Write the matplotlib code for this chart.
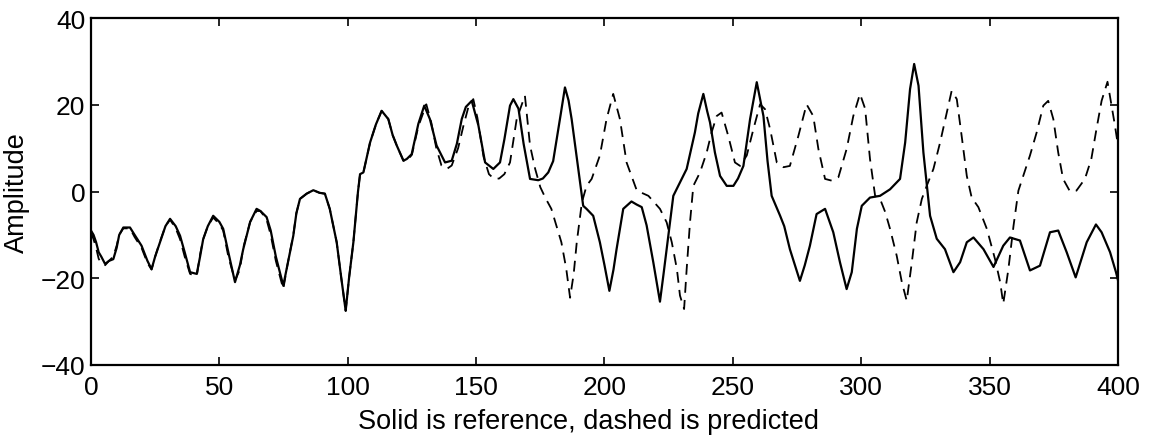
import numpy as np
import matplotlib
matplotlib.use('Agg')
import matplotlib.pyplot as plt

# reference signal (solid)
ref_x = [0, 1, 2, 3, 4, 5.5, 7, 8.7, 10, 11, 12.6, 15.2, 17, 19.7, 22, 23.6, 25, 26.9,
         29, 30.8, 33, 34.7, 36.5, 38.6, 41.2, 42.5, 43.7, 45.5, 47.6, 50, 51.5, 53.5,
         56.1, 58, 59.3, 62, 64.5, 66, 68.4, 70, 72, 74.9, 76.5, 78.8, 80, 81.4, 84,
         86.6, 89, 91.1, 93, 95.7, 97.5, 99.2, 100.5, 102.2, 104, 104.8, 106.1, 108.7,
         111, 113.2, 115.8, 117.5, 119.1, 121.7, 123, 124.9, 127.5, 129.8, 132, 134.6,
         137.9, 140.5, 142.5, 144.4, 146, 148.3, 150.9, 153.5, 156.7, 159.3, 161, 163.2,
         164.5, 166.5, 168.5, 171, 174.2, 176, 178.1, 180, 181.4, 183, 184.6, 186, 187.2,
         189.8, 191.7, 193, 195.6, 198.2, 200, 201.9, 203.5, 204.7, 207.3, 210.5, 212.5,
         214.5, 216.4, 219, 221.6, 223, 224.2, 226.8, 229.4, 232, 235.2, 236.5, 238.5,
         240, 241.1, 243, 245, 247.6, 250.2, 252, 254.1, 256.7, 259.3, 261.9, 263.5,
         265.1, 268.4, 270, 272.2, 276.1, 278, 280, 282.6, 285.9, 289.1, 291.7, 294.3,
         296.3, 298.3, 300.2, 303.4, 307.3, 311.2, 315.1, 317.1, 319, 320.6, 322.3, 324.2,
         326.8, 329.4, 332.6, 335.9, 338.5, 341.1, 343.7, 347.6, 351.5, 355.3, 357.9,
         361.8, 365.7, 369.6, 373.5, 376.7, 380, 383.5, 387.8, 391.4, 393.6, 396.9,
         399.2, 400]
ref_y = [-9, -10, -11.7, -14, -15, -16.7, -16, -15.6, -13, -10, -8.3, -8.3, -10, -12.5,
         -16, -17.9, -15, -11.7, -8, -6.3, -8, -10.2, -14, -18.6, -19, -15, -11, -8,
         -5.6, -7, -8.6, -14, -20.9, -17, -13.3, -7, -4.0, -4.5, -5.9, -9, -15, -21.7,
         -17, -10.2, -5, -1.7, -0.5, 0.3, -0.3, -0.5, -4, -11.7, -20, -27.5, -20, -11.7,
         0, 4.0, 4.4, 11.3, 15.5, 18.6, 16.7, 13, 10.6, 7.1, 7.5, 8.6, 15.6, 19.8, 16.7,
         10.6, 6.7, 7.1, 11, 16.7, 19.5, 20.9, 15.2, 6.7, 5.2, 6.7, 12, 19.8, 21.3, 19.1,
         11, 2.9, 2.6, 3, 4.4, 7, 12.1, 18, 24.0, 21, 16.7, 5.2, -3.3, -4.0, -5.6, -11.7,
         -17, -22.9, -18, -13.3, -4.0, -2.3, -3, -3.6, -7.8, -16.3, -25.4, -19, -13.3,
         -1.0, 2.1, 5.2, 13.6, 18, 22.5, 18.5, 15.9, 9, 3.6, 1.3, 1.3, 3, 5.9, 16.7,
         25.2, 17.4, 7, -1.0, -5.6, -8, -13.3, -20.6, -17, -12.5, -5.2, -4.0, -9.4,
         -16.3, -22.5, -18.6, -8.6, -3.3, -1.4, -1.0, 0.5, 2.9, 11.3, 23.6, 29.4, 24.4,
         9.0, -5.6, -10.9, -13.3, -18.6, -16.3, -11.7, -10.6, -13.3, -17.4, -12.5, -10.6,
         -11.3, -18.2, -17.1, -9.4, -9.0, -14.0, -19.8, -11.7, -7.6, -9.4, -14, -18.6,
         -20.5]

# predicted signal (dashed)
pred_x = [0, 1, 2, 3, 4, 5.5, 7, 8.7, 10, 11, 12.6, 15.2, 17, 19.7, 22, 23.6, 25, 26.9,
          29, 30.8, 33, 34.7, 36.5, 38.6, 41.2, 42.5, 43.7, 45.5, 47.6, 50, 51.5, 53.5,
          56.1, 58, 59.3, 62, 64.5, 66, 68.4, 70, 72, 74.9, 76.5, 78.8, 80, 81.4, 84,
          86.6, 89, 91.1, 93, 95.7, 97.5, 99.2, 100.5, 102.2, 104, 104.8, 106.1, 108.7,
          111, 113.2, 115.8, 117.5, 119.1, 121.7, 123, 125, 127.5, 130.6, 132.5, 134.5,
          136.5, 138.6, 140.5, 143, 145, 147, 148.9, 150.5, 152.9, 155, 157, 159, 161,
          163.2, 165.8, 169, 171, 173, 175, 177, 179.3, 183.2, 185.1, 186.6, 188, 189.2,
          191.2, 193, 195, 198.2, 200.8, 203.4, 206, 208.6, 212.6, 217.1, 221.6, 224.2,
          226.2, 228.2, 229.4, 231, 232, 233.3, 234.6, 237.2, 239.8, 241.7, 243.7, 245.6,
          248.2, 250.8, 252.8, 255.4, 258, 260.6, 262.5, 264.5, 267.1, 269.7, 272.2,
          275.5, 278.7, 281.3, 283.3, 285.9, 288.5, 291.1, 294.3, 296.9, 299.5, 301.5,
          303.4, 305.4, 307.3, 309.3, 311.2, 313.8, 315.8, 317.7, 319.7, 321.6, 323.6,
          325.5, 328.1, 330.7, 333.3, 335.2, 337.2, 339.1, 341.1, 343.0, 345.6, 348.9,
          352.1, 354.1, 355.3, 357.3, 359.3, 361.2, 363.1, 365.7, 368.3, 370.9, 372.8,
          374.8, 376.7, 378.6, 381.3, 383.8, 387.1, 389.6, 391.6, 393.6, 395.9, 397.5,
          398.8, 400]
pred_y = [-9.5, -11, -13, -15.5, -16.5, -17, -16, -15, -12.5, -10, -8.5, -8.5, -10.5,
          -13, -16.5, -18, -15, -11.5, -8, -6.5, -8.5, -11, -15, -19, -19.5, -14.5, -11,
          -8, -6, -7.5, -9, -15, -20.5, -18, -13, -7, -4.5, -4.5, -6.5, -10, -16, -22.5,
          -17, -10, -5, -1.7, -0.5, 0.3, -0.3, -0.5, -4, -11.7, -20, -27.5, -20, -11.7,
          0, 4.0, 4.4, 11.3, 15.5, 18.6, 16.7, 13, 10.6, 7.1, 7, 8.5, 15, 20.1, 16, 10,
          6, 5.2, 6, 10, 15, 19.5, 21.3, 17, 8, 4, 2.9, 3.0, 4, 6.7, 16.7, 22.1, 10.6,
          5.2, 1, -1.5, -4.0, -11.7, -17.8, -24.5, -19, -11.7, -2.5, 1.3, 2.9, 8.3, 16.7,
          22.5, 16.7, 6.7, 0.2, -1.0, -4.0, -7.1, -11.7, -17.9, -24.0, -27.1, -17.9, -7.1,
          1.3, 4.4, 9.0, 13.6, 17.4, 18.2, 12.8, 6.7, 5.9, 8.3, 14.4, 20.1, 19, 14.4, 6.7,
          5.6, 5.9, 12.8, 20.1, 17.4, 9.8, 2.9, 2.5, 3.3, 9.8, 17.4, 22.5, 19.1, 7.5,
          -1.0, -1.7, -4.7, -8.6, -14.8, -20.9, -25.2, -16.3, -7.1, -1.7, 1.3, 5.2, 11.3,
          18.2, 23.2, 21.3, 12.8, 3.6, -1.4, -3.6, -8.6, -15.6, -20.9, -25.9, -17.9, -7.9,
          0.2, 3.6, 8.3, 13.6, 19.8, 20.9, 16.7, 9.0, 2.9, 0, 0.2, 2.9, 7.5, 14.4, 20.9,
          25.3, 19.8, 15.2, 10.5]

x_ticks = [0, 50, 100, 150, 200, 250, 300, 350, 400]
y_ticks = [-40, -20, 0, 20, 40]

plt.rcParams['font.family'] = ['Liberation Sans', 'DejaVu Sans']

fig = plt.figure(figsize=(11.5, 4.39), dpi=100)
ax = fig.add_axes([0.0791, 0.1663, 0.8931, 0.7904])

ax.plot(ref_x, ref_y, color='black', lw=1.6)
line, = ax.plot(pred_x, pred_y, color='black', lw=1.3)
line.set_dashes([6, 4])

ax.set_xlim(0, 400)
ax.set_ylim(-40, 40)
ax.set_xticks(x_ticks)
ax.set_yticks(y_ticks)
ax.tick_params(direction='in', length=6, width=1.2, top=True, right=True,
               labelsize=19)
ax.tick_params(axis='x', pad=7)
ax.tick_params(axis='y', pad=4)
for s in ax.spines.values():
    s.set_linewidth(1.6)

ax.set_xlabel('Solid is reference, dashed is predicted', fontsize=19.5, labelpad=5)
ax.xaxis.set_label_coords(0.484, -0.125, transform=ax.transAxes)
ax.xaxis.label.set_va('top')
ax.set_ylabel('Amplitude', fontsize=19.5, labelpad=8)

fig.savefig('out.png', dpi=100)
